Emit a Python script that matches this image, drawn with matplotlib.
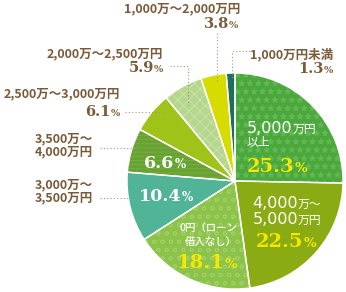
import matplotlib
matplotlib.use('Agg')
import matplotlib.pyplot as plt

plt.rcParams['hatch.linewidth'] = 0.6

# ---------------- data ----------------
categories = ['5,000万円以上', '4,000万～5,000万円', '0円（ローン借入なし）',
              '3,000万～3,500万円', '3,500万～4,000万円', '2,500万～3,000万円',
              '2,000万～2,500万円', '1,000万～2,000万円', '1,000万円未満']
values = [25.3, 22.5, 18.1, 10.4, 6.6, 6.1, 5.9, 3.8, 1.3]
colors = ['#4aa83c', '#8aab14', '#8cc34b', '#52b496', '#68a233',
          '#a0c319', '#b4d78c', '#d7dc00', '#1e6e5a']
hatches = ['**', None, 'oo', None, '----', None, 'xxx', None, None]
hatch_colors = ['#64b854', None, '#a4cf68', None, '#78b042', None, '#cce4b0', None, None]

BROWN = '#7a5a38'
YELLOW = '#f7e800'
DOT = '#a8957a'

W, H = 346, 292
fig = plt.figure(figsize=(W / 100, H / 100), dpi=100)
ax = fig.add_axes([0, 0, 1, 1])

CX, CY, R = 235, 181, 108
common = dict(startangle=90, counterclock=False, radius=R, center=(CX, H - CY), frame=False)
ax.pie(values, colors=colors, wedgeprops=dict(linewidth=0), **common)
w2, _ = ax.pie(values, colors=['none'] * len(values), wedgeprops=dict(linewidth=0), **common)
for w, h, hc in zip(w2, hatches, hatch_colors):
    if h:
        w.set_hatch(h)
        w.set_edgecolor(hc)
        w.set_linewidth(0)
    else:
        w.set_visible(False)
ax.pie(values, colors=['none'] * len(values),
       wedgeprops=dict(linewidth=1, edgecolor='white'), **common)

ax.set_xlim(0, W)
ax.set_ylim(0, H)
ax.set_aspect('equal')
ax.axis('off')

renderer = fig.canvas.get_renderer()


def runs(x, y, parts, ha='left'):
    ts = [ax.text(0, 0, s, ha='left', va='baseline', **kw) for s, kw in parts]
    ws = [t.get_window_extent(renderer).width for t in ts]
    tot = sum(ws)
    x0 = x - {'left': 0, 'center': tot / 2, 'right': tot}[ha]
    for t, wd in zip(ts, ws):
        t.set_position((x0, H - y))
        x0 += wd


LAB = dict(family=['Noto Sans CJK JP', 'DejaVu Sans'], weight='bold', size=9, color=BROWN)
PO = dict(family='DejaVu Serif', weight='bold', size=10.5, color=BROWN)
PSO = dict(family='DejaVu Serif', weight='bold', size=7, color=BROWN)
WL = dict(family='DejaVu Sans', size=11.5, color='white')
WJ = dict(family=['Noto Sans CJK JP', 'DejaVu Sans'], size=8.5, color='white')
WS = dict(family=['Noto Sans CJK JP', 'DejaVu Sans'], size=7.5, color='white', weight='medium')
PY = dict(family='DejaVu Serif', weight='bold', size=14, color=YELLOW)
PSY = dict(family='DejaVu Serif', weight='bold', size=9.5, color=YELLOW)
PW = dict(family='DejaVu Serif', weight='bold', size=12.5, color='white')
PSW = dict(family='DejaVu Serif', weight='bold', size=8.5, color='white')


def pct(v):
    return f'{v:.1f}'


# outside labels
runs(240, 12, [('1,000万～2,000万円', LAB)], 'right')
runs(238, 28, [(pct(values[7]), PO), ('%', PSO)], 'right')
runs(333, 58, [('1,000万円未満', LAB)], 'right')
runs(333, 73, [(pct(values[8]), PO), ('%', PSO)], 'right')
runs(163, 57, [('2,000万～2,500万円', LAB)], 'right')
runs(163, 72, [(pct(values[6]), PO), ('%', PSO)], 'right')
runs(120, 97, [('2,500万～3,000万円', LAB)], 'right')
runs(120, 116, [(pct(values[5]), PO), ('%', PSO)], 'right')
runs(93, 142, [('3,500万～', LAB)], 'right')
runs(93, 155, [('4,000万円', LAB)], 'right')
runs(93, 188, [('3,000万～', LAB)], 'right')
runs(93, 201, [('3,500万円', LAB)], 'right')

# inside labels
runs(247, 133, [('5,000', WL), ('万円', WJ)], 'left')
runs(247, 146, [('以上', WJ)], 'left')
runs(247, 172, [(pct(values[0]), PY), ('%', PSY)], 'left')

runs(287, 208, [('4,000', WL), ('万～', WJ)], 'center')
runs(287, 224, [('5,000', WL), ('万円', WJ)], 'center')
runs(286, 247, [(pct(values[1]), PY), ('%', PSY)], 'center')

runs(208, 231, [('0円（ローン', WS)], 'center')
runs(211, 245, [('借入なし）', WS)], 'center')
runs(207, 268, [(pct(values[2]), PY), ('%', PSY)], 'center')

runs(166, 201, [(pct(values[3]), PW), ('%', PSW)], 'center')
runs(165, 168, [(pct(values[4]), PW), ('%', PSW)], 'center')

# leader lines
ls = dict(color=DOT, lw=0.8, linestyle=(0, (1, 2)))
ax.plot([217, 217], [H - 33, H - 83], **ls)
ax.plot([250, 232, 232], [H - 51, H - 51, H - 78], **ls)
ax.plot([170, 188, 188], [H - 66, H - 66, H - 105], **ls)
ax.plot([125, 163], [H - 112, H - 112], **ls)
ax.plot([100, 140], [H - 148, H - 148], **ls)
ax.plot([100, 128], [H - 198, H - 198], **ls)

fig.savefig('out.png', dpi=100)
